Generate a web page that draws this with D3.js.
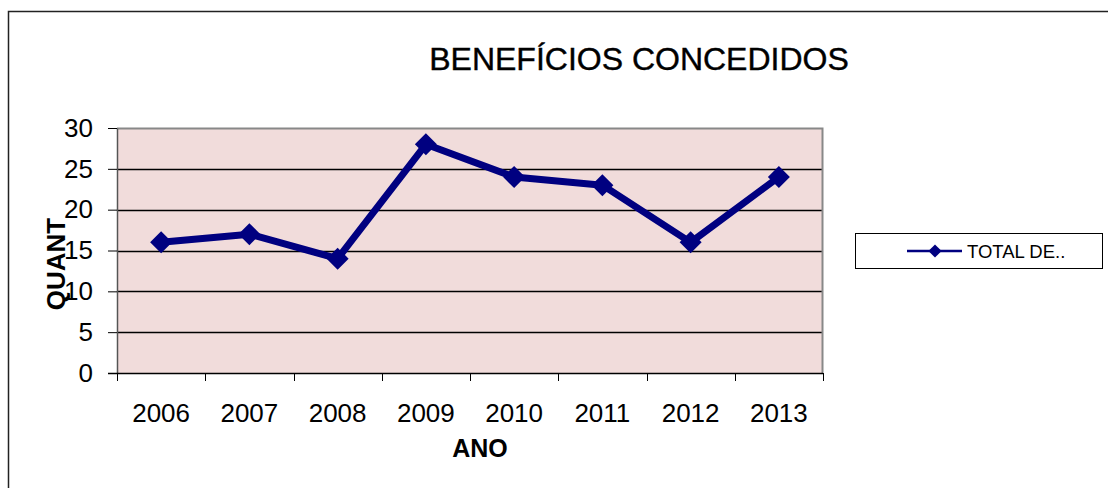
<!DOCTYPE html>
<html>
<head>
<meta charset="utf-8">
<script src="https://cdn.jsdelivr.net/npm/d3@7"></script>
<style>
  body { margin: 0; background: #fff; }
  text { font-family: "Liberation Sans", Arial, sans-serif; }
</style>
</head>
<body>
<div id="chart"></div>
<script>
// data
var years = ["2006", "2007", "2008", "2009", "2010", "2011", "2012", "2013"];
var totals = [16, 17, 14, 28, 24, 23, 16, 24];
var yTicks = [0, 5, 10, 15, 20, 25, 30];
var seriesName = "TOTAL DE..";

var width = 1108;
var height = 488;

// plot area
var plot = { left: 117, top: 128, right: 823, bottom: 373 };

var svg = d3.select("#chart").append("svg")
    .attr("width", width)
    .attr("height", height);

// outer chart frame (runs off the right and bottom of the image)
svg.append("rect")
    .attr("x", 8.5)
    .attr("y", 11.5)
    .attr("width", 1200)
    .attr("height", 600)
    .attr("fill", "none")
    .attr("stroke", "#222")
    .attr("stroke-width", 1.5);

svg.append("text")
    .attr("x", 639)
    .attr("y", 70)
    .attr("text-anchor", "middle")
    .attr("font-size", "32px")
    .attr("fill", "#000")
    .attr("stroke", "#000")
    .attr("stroke-width", 0.4)
    .text("BENEFÍCIOS CONCEDIDOS");

var x = d3.scaleBand()
    .domain(years)
    .range([plot.left, plot.right]);

var y = d3.scaleLinear()
    .domain([0, 30])
    .range([plot.bottom, plot.top]);

// background
svg.append("rect")
    .attr("x", plot.left)
    .attr("y", plot.top)
    .attr("width", plot.right - plot.left)
    .attr("height", plot.bottom - plot.top)
    .attr("fill", "#f1dcdb");

// gridlines
svg.append("g")
    .selectAll("line")
    .data(yTicks.filter(d => d > 0 && d < 30))
    .enter()
    .append("line")
    .attr("x1", plot.left)
    .attr("x2", plot.right)
    .attr("y1", d => Math.round(y(d)) + 0.5)
    .attr("y2", d => Math.round(y(d)) + 0.5)
    .attr("stroke", "#000")
    .attr("stroke-width", 1.3);

// plot border top/right
svg.append("path")
    .attr("d", `M${plot.left},${plot.top + 0.5}H${plot.right - 0.5}V${plot.bottom}`)
    .attr("fill", "none")
    .attr("stroke", "#888")
    .attr("stroke-width", 2);

// y axis
var leftAxis = d3.axisLeft(y)
    .tickValues(yTicks)
    .tickSize(9)
    .tickPadding(15)
    .tickSizeOuter(0);

var yAxisG = svg.append("g")
    .attr("transform", `translate(${plot.left}, 0)`)
    .call(leftAxis);
yAxisG.select(".domain").attr("stroke", "#555").attr("stroke-width", 1.5);
yAxisG.selectAll(".tick line").attr("stroke", "#000");
yAxisG.selectAll(".tick text")
    .attr("font-size", "26px")
    .attr("font-family", "Liberation Sans, Arial, sans-serif")
    .attr("fill", "#000");

// x axis - ticks between categories
var xAxisG = svg.append("g")
    .attr("transform", `translate(0, ${plot.bottom})`);

xAxisG.append("line")
    .attr("x1", plot.left - 9)
    .attr("x2", plot.right)
    .attr("y1", 0.5)
    .attr("y2", 0.5)
    .attr("stroke", "#000")
    .attr("stroke-width", 1.5);

var boundaries = years.map(d => x(d)).concat([x.range()[1]]);
xAxisG.selectAll(".xtick")
    .data(boundaries)
    .enter()
    .append("line")
    .attr("class", "xtick")
    .attr("x1", d => Math.round(d) + 0.5)
    .attr("x2", d => Math.round(d) + 0.5)
    .attr("y1", 0)
    .attr("y2", 8)
    .attr("stroke", "#000");

xAxisG.selectAll(".xlabel")
    .data(years)
    .enter()
    .append("text")
    .attr("class", "xlabel")
    .attr("x", d => x(d) + x.bandwidth() / 2)
    .attr("y", 49)
    .attr("text-anchor", "middle")
    .attr("font-size", "26px")
    .text(d => d);

// axis titles
svg.append("text")
    .attr("transform", `translate(65, 264) rotate(-90)`)
    .attr("text-anchor", "middle")
    .attr("font-size", "26px")
    .attr("font-weight", "bold")
    .text("QUANT");

svg.append("text")
    .attr("x", 480)
    .attr("y", 457)
    .attr("text-anchor", "middle")
    .attr("font-size", "25px")
    .attr("font-weight", "bold")
    .text("ANO");

// series
var line = d3.line()
    .x((d, i) => x(years[i]) + x.bandwidth() / 2)
    .y(d => y(d));

svg.append("path")
    .datum(totals)
    .attr("d", line)
    .attr("fill", "none")
    .attr("stroke", "#000080")
    .attr("stroke-width", 7)
    .attr("stroke-linejoin", "round");

var diamond = d3.symbol().type(d3.symbolDiamond2).size(310);

svg.selectAll(".marker")
    .data(totals)
    .enter()
    .append("path")
    .attr("class", "marker")
    .attr("d", diamond)
    .attr("transform", (d, i) => `translate(${x(years[i]) + x.bandwidth() / 2}, ${y(d)})`)
    .attr("fill", "#000080");

// legend
var legend = svg.append("g");
legend.append("rect")
    .attr("x", 855.5)
    .attr("y", 233.5)
    .attr("width", 247)
    .attr("height", 35)
    .attr("fill", "#fff")
    .attr("stroke", "#000")
    .attr("stroke-width", 1);

legend.append("line")
    .attr("x1", 907)
    .attr("x2", 962)
    .attr("y1", 251)
    .attr("y2", 251)
    .attr("stroke", "#000080")
    .attr("stroke-width", 2.5);

legend.append("path")
    .attr("d", d3.symbol().type(d3.symbolDiamond2).size(110))
    .attr("transform", "translate(935, 251)")
    .attr("fill", "#000080");

legend.append("text")
    .attr("x", 967)
    .attr("y", 257.5)
    .attr("font-size", "18.5px")
    .attr("fill", "#000")
    .text(seriesName);
</script>
</body>
</html>
